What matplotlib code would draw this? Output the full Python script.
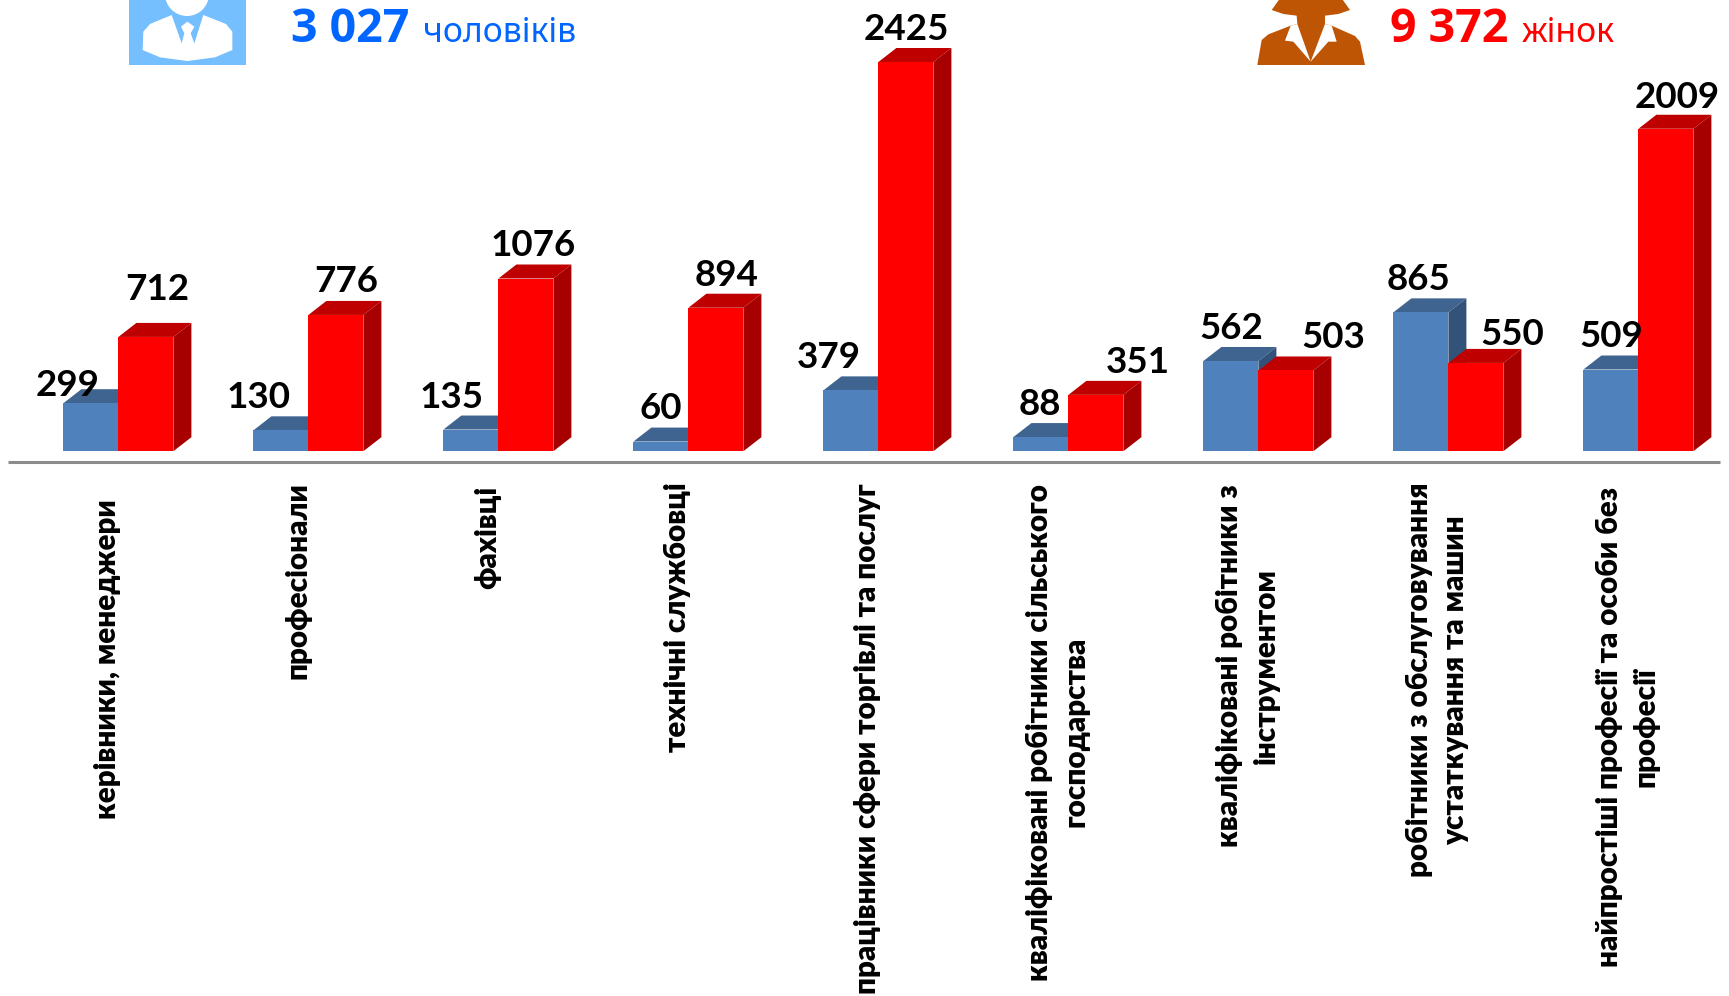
import numpy as np
import matplotlib
matplotlib.use('Agg')
import matplotlib.pyplot as plt
from matplotlib.patches import Polygon, Circle, Rectangle

FIG_W, FIG_H = 1729, 996
BASE_PX = 451.2      # pixel row of value 0
PX_PER_UNIT = 0.1605
GROUP_STEP = 190
FIRST_CENTER = 118.4
BAR_W = 55 / GROUP_STEP
DEPTH_X, DEPTH_Y = 18, 14

categories = [
    'керівники, менеджери',
    'професіонали',
    'фахівці',
    'технічні службовці',
    'працівники сфери торгівлі та послуг',
    'кваліфіковані робітники сільського\nгосподарства',
    'кваліфіковані робітники з\nінструментом',
    'робітники з обслуговування\nустаткування та машин',
    'найпростіші професії та особи без\nпрофесії',
]
men = [299, 130, 135, 60, 379, 88, 562, 865, 509]
# the second red bar is drawn taller in the picture than its label says
women = [712, 849, 1076, 894, 2425, 351, 503, 550, 2009]
women_labels = ['712', '776', '1076', '894', '2425', '351', '503', '550', '2009']

# label offsets from the bar top in pixels (dx, dy up)
men_label_off = [(-23, 18), (-22, 33), (-19, 32), (0, 33), (-22, 33), (-1, 33), (0, 32), (-2, 33), (0, 33)]
women_label_off = [(11, 47), (10, 33), (7, 33), (11, 32), (0, 32), (42, 32), (47, 32.5), (36, 28), (11, 31.5)]
cat_center_px = [659, 581, 537, 617, 739, 732, 666, 680, 727]

BLUE, BLUE_TOP, BLUE_SIDE = '#4F81BD', '#3F648F', '#33527A'
RED, RED_TOP, RED_SIDE = '#FF0000', '#BF0000', '#A60000'

plt.rcParams['font.family'] = ['Lato', 'Noto Sans', 'DejaVu Sans']

fig = plt.figure(figsize=(FIG_W / 100, FIG_H / 100), dpi=100)
ax = fig.add_axes([0, 0, 1, 1])
ax.set_xlim(-FIRST_CENTER / GROUP_STEP, (FIG_W - FIRST_CENTER) / GROUP_STEP)
ax.set_ylim((BASE_PX - FIG_H) / PX_PER_UNIT, BASE_PX / PX_PER_UNIT)
ax.axis('off')

dx = DEPTH_X / GROUP_STEP
dy = DEPTH_Y / PX_PER_UNIT


def draw_bar(left, value, front, top, side, z):
    ax.bar(left, value, BAR_W, align='edge', color=front, zorder=z + 0.2)
    right = left + BAR_W
    ax.add_patch(Polygon([(left, value), (right, value), (right + dx, value + dy), (left + dx, value + dy)],
                         color=top, lw=0, zorder=z))
    ax.add_patch(Polygon([(right, 0), (right + dx, dy), (right + dx, value + dy), (right, value)],
                         color=side, lw=0, zorder=z))


for i in range(len(categories)):
    draw_bar(i - BAR_W, men[i], BLUE, BLUE_TOP, BLUE_SIDE, 2 + i)
    draw_bar(i, women[i], RED, RED_TOP, RED_SIDE, 2.5 + i)

    ax.annotate(str(men[i]), (i - BAR_W / 2, men[i]), xytext=(men_label_off[i][0] * 0.72, men_label_off[i][1] * 0.72),
                textcoords='offset points', ha='center', va='center', fontsize=26.5, fontweight='bold', zorder=30)
    ax.annotate(women_labels[i], (i + BAR_W / 2, women[i]), xytext=(women_label_off[i][0] * 0.72, women_label_off[i][1] * 0.72),
                textcoords='offset points', ha='center', va='center', fontsize=26.5, fontweight='bold', zorder=30)

    ax.text(i - 11 / GROUP_STEP, (BASE_PX - cat_center_px[i]) / PX_PER_UNIT, categories[i], rotation=90,
            ha='center', va='center', multialignment='center', fontsize=21.3, fontweight=800, linespacing=1.35)

# axis line
ax.plot([-110 / GROUP_STEP, (1720 - FIRST_CENTER) / GROUP_STEP], [-10.6 / PX_PER_UNIT] * 2, color='#8C8C8C', lw=2.2,
        zorder=1, solid_capstyle='butt')

# icons and totals, drawn on a pixel overlay
ov = fig.add_axes([0, 0, 1, 1])
ov.set_xlim(0, FIG_W)
ov.set_ylim(FIG_H, 0)
ov.axis('off')
ov.patch.set_alpha(0)

ov.add_patch(Rectangle((129, -2), 117, 67, color='#75BFFF', lw=0))
ov.add_patch(Circle((187, -6), 22, color='white', lw=0))
man = [(215, 45), (150, 72), (130, 95), (128, 150), (180, 172), (262, 183), (345, 172), (397, 150), (397, 95),
       (378, 72), (310, 45), (283, 130), (272, 100), (283, 80), (262, 65), (243, 80), (253, 100), (245, 130)]
ov.add_patch(Polygon([(100 + x / 3, y / 3) for x, y in man], color='white', lw=0))

woman = [(180, -5), (155, 30), (190, 42), (230, 47), (232, 72), (212, 77), (145, 103), (125, 120), (112, 195),
         (435, 195), (420, 125), (405, 108), (335, 77), (315, 72), (315, 47), (355, 42), (390, 30), (365, -5)]
ov.add_patch(Polygon([(1220 + x / 3, y / 3) for x, y in woman], color='#BE5504', lw=0))
for pts in ([(212, 77), (195, 122), (220, 125), (272, 185), (232, 72)],
            [(335, 77), (350, 125), (325, 125), (272, 185), (315, 72)]):
    ov.add_patch(Polygon([(1220 + x / 3, y / 3) for x, y in pts], color='white', lw=0))

ov.text(291, 42, '3 027', color='#0066FF', fontsize=33.5, fontweight='bold', family='Open Sans', va='baseline')
ov.text(423, 42, 'чоловіків', color='#0066FF', fontsize=24.3, family='Noto Sans', va='baseline')
ov.text(1390, 42, '9 372', color='#FF0000', fontsize=33.5, fontweight='bold', family='Open Sans', va='baseline')
ov.text(1522, 42, 'жінок', color='#FF0000', fontsize=24.3, family='Noto Sans', va='baseline')

fig.savefig('out.png', dpi=100, facecolor='white')
